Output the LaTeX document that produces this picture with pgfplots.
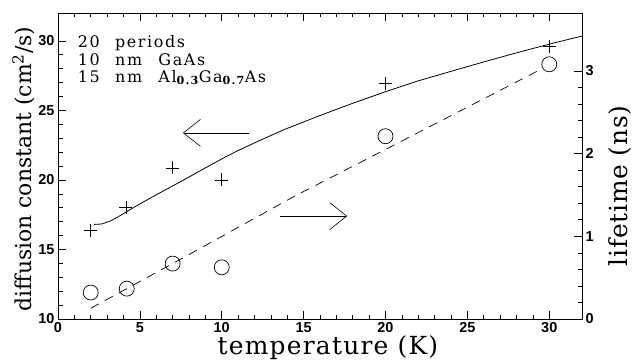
\documentclass[border=0pt]{standalone}
\usepackage{fontspec}
\setmainfont{DejaVu Serif}
\newfontfamily\tickfont{Liberation Sans}
\newfontfamily\insetfont{DejaVu Serif}[LetterSpace=10]
\newfontfamily\xlabfont{DejaVu Serif}[LetterSpace=5]
\newfontfamily\rlabfont{DejaVu Serif}[LetterSpace=3]
\usepackage{pgfplots}
\pgfplotsset{compat=1.18}
\usetikzlibrary{arrows.meta}

\begin{document}
\begin{tikzpicture}
\useasboundingbox (-58bp,-41bp) rectangle (575bp,319bp);
\pgfplotsset{
  common/.style={
    scale only axis, width=524bp, height=306bp,
    xmin=0, xmax=32,
    tick align=inside,
    major tick length=8bp, minor tick length=4.5bp,
    every tick/.style={line width=0.6pt, black},
    axis line style={line width=0.8pt},
    /pgf/number format/assume math mode=true,
    tick label style={font=\tickfont\bfseries\fontsize{14.5}{14.5}\selectfont},
  }
}
\begin{axis}[common,
  ymin=10, ymax=32,
  xtick={0,5,...,30}, minor x tick num=4, xtick pos=both,
  ytick={10,15,...,30}, minor y tick num=4, ytick pos=left,
  xlabel={temperature (K)},
  xlabel style={font=\xlabfont\fontsize{25}{25}\selectfont, at={(axis description cs:0.515,0)}, anchor=base, yshift=-35.5bp},
  ylabel={diffusion constant (cm\textsuperscript{2}/s)},
  ylabel style={font=\fontsize{22}{22}\selectfont, at={(axis description cs:-0.0515,0.49)}, anchor=base, rotate=0},
]
\addplot[black, line width=0.8pt] coordinates {
(2.2,16.8)(2.67,16.83)(3.2,17.05)(3.69,17.36)(4.7,18.07)(5.72,18.75)(6.74,19.4)(7.76,20.05)(8.78,20.72)(9.59,21.24)(10.3,21.7)(11.3,22.28)(12.35,22.85)(13.78,23.6)(15.82,24.55)(17.86,25.45)(19.9,26.3)(21.94,27.1)(23.98,27.8)(26.2,28.55)(28.2,29.2)(30.3,29.85)(32,30.34)
};
\addplot[black, only marks, mark=+, mark size=6.5bp, mark options={line width=0.7pt}] coordinates {
(2,16.34)(4.15,18.05)(7,20.86)(10,20.0)(20,26.93)(30,29.62)
};
\draw[line width=0.6pt, -{Straight Barb[length=17bp, width=27bp]}] (axis cs:11.64,23.38) -- (axis cs:7.63,23.38);
\draw[line width=0.6pt, -{Straight Barb[length=17bp, width=27bp]}] (axis cs:13.58,17.4) -- (axis cs:17.66,17.4);
\node[anchor=base west, inner sep=0, font=\insetfont\fontsize{16}{16}\selectfont] at (axis cs:1.2,29.53) {20};
\node[anchor=base west, inner sep=0, font=\insetfont\fontsize{16}{16}\selectfont] at (axis cs:3.48,29.53) {periods};
\node[anchor=base west, inner sep=0, font=\insetfont\fontsize{16}{16}\selectfont] at (axis cs:1.2,28.26) {10};
\node[anchor=base west, inner sep=0, font=\insetfont\fontsize{16}{16}\selectfont] at (axis cs:3.48,28.26) {nm};
\node[anchor=base west, inner sep=0, font=\insetfont\fontsize{16}{16}\selectfont] at (axis cs:6.125,28.26) {GaAs};
\node[anchor=base west, inner sep=0, font=\insetfont\fontsize{16}{16}\selectfont] at (axis cs:1.2,27.02) {15};
\node[anchor=base west, inner sep=0, font=\insetfont\fontsize{16}{16}\selectfont] at (axis cs:3.48,27.02) {nm};
\node[anchor=base west, inner sep=0, font=\insetfont\fontsize{16}{16}\selectfont] at (axis cs:6.125,27.02) {Al\textsubscript{\bfseries 0.3}Ga\textsubscript{\bfseries 0.7}As};
\end{axis}
\begin{axis}[common,
  ymin=0, ymax=3.7,
  xtick=\empty,
  ytick={0,1,2,3}, minor y tick num=4, ytick pos=right,
  yticklabel pos=right,
  ylabel={lifetime (ns)},
  ylabel style={font=\rlabfont\fontsize{25}{25}\selectfont, at={(axis description cs:1.086,0.435)}, anchor=base, rotate=0},
]
\addplot[black, line width=0.7pt, dash pattern=on 9bp off 7bp] coordinates {
(2,0.13)(7,0.67)(14.4,1.48)(20,2.05)(29.3,3.0)
};
\addplot[black, only marks, mark=o, mark size=7.5bp, mark options={line width=0.7pt}] coordinates {
(2,0.32)(4.2,0.367)(7,0.67)(10,0.625)(20,2.21)(30,3.08)
};
\end{axis}
\end{tikzpicture}
\end{document}
